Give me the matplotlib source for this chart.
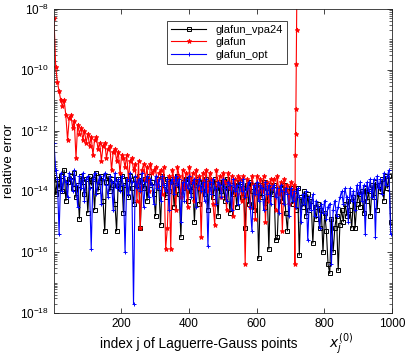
import numpy as np
import matplotlib
matplotlib.use('Agg')
import matplotlib.pyplot as plt
from matplotlib.ticker import FixedLocator, LogLocator, NullFormatter

plt.rcParams['font.family'] = ['Liberation Sans', 'DejaVu Sans']

# log10 of the relative error (every 5th index)
j_step = np.arange(1, 1000, 5)

vpa24 = [
    -13.4, -14.1, -13.6, -13.9, -13.5, -14.0, -13.3, -14.3, -13.7, -13.6,
    -13.5, -13.9, -13.4, -14.2, -13.8, -14.9, -13.5, -13.7, -14.1, -13.6,
    -14.7, -13.5, -13.8, -13.6, -14.6, -13.4, -14.0, -13.7, -13.5, -14.3,
    -15.3, -13.7, -13.5, -14.0, -13.6, -13.8, -14.4, -15.3, -13.6, -13.9,
    -13.5, -14.7, -13.8, -13.6, -14.2, -13.5, -13.9, -14.4, -13.6, -13.8,
    -13.5, -15.2, -13.7, -13.9, -13.6, -14.3, -13.5, -13.8, -13.7, -14.1,
    -14.8, -13.6, -13.9, -15.1, -13.5, -13.8, -14.2, -13.6, -14.0, -13.7,
    -13.6, -14.5, -13.8, -13.5, -14.1, -15.5, -13.7, -13.9, -13.6, -14.3,
    -13.6, -14.0, -13.7, -15.0, -13.8, -13.6, -14.4, -13.9, -13.7, -14.1,
    -13.6, -14.6, -13.8, -13.7, -14.2, -13.6, -13.9, -14.8, -13.7, -14.0,
    -13.7, -14.3, -13.6, -13.9, -14.7, -13.8, -14.1, -13.7, -14.5, -13.8,
    -13.7, -14.2, -13.9, -15.2, -13.8, -14.4, -13.7, -14.0, -14.6, -13.8,
    -13.9, -16.2, -13.8, -14.2, -13.7, -14.5, -13.9, -15.9, -13.8, -14.1,
    -13.8, -15.6, -15.5, -14.0, -13.9, -14.3, -13.8, -14.7, -15.3, -14.0,
    -13.9, -14.4, -14.0, -14.6, -13.9, -16.1, -14.2, -14.5, -14.0, -14.8,
    -14.1, -14.6, -14.3, -15.7, -14.5, -14.9, -14.4, -15.2, -14.6, -16.0,
    -14.7, -15.3, -16.4, -16.7, -14.9, -16.0, -15.2, -14.8, -16.6, -15.1,
    -14.6, -15.0, -14.4, -14.8, -14.3, -14.6, -15.2, -14.2, -15.2, -14.4,
    -14.1, -14.5, -14.0, -14.7, -13.9, -14.3, -14.0, -14.8, -13.8, -14.2,
    -13.7, -14.6, -13.8, -14.0, -13.6, -14.3, -13.5, -13.9, -13.5, -15.0,
]

glafun = [
    -8.3, -9.9, -10.4, -10.7, -11.0, -11.2, -11.0, -11.5, -12.3, -11.6,
    -11.5, -11.9, -11.7, -12.9, -11.8, -12.1, -11.9, -12.3, -12.0, -12.4,
    -12.1, -12.5, -12.2, -12.8, -12.3, -12.2, -12.6, -12.4, -13.0, -12.5,
    -12.4, -12.9, -12.6, -12.5, -13.3, -12.7, -12.6, -13.0, -12.7, -13.4,
    -12.8, -12.9, -13.2, -12.8, -13.6, -13.0, -12.9, -13.3, -13.1, -14.3,
    -13.0, -15.2, -13.3, -13.1, -13.6, -13.2, -14.0, -13.1, -13.4, -13.3,
    -13.2, -13.8, -13.4, -13.3, -14.1, -13.2, -15.9, -15.2, -13.5, -15.9,
    -13.3, -13.6, -14.6, -13.2, -13.5, -14.2, -13.3, -13.9, -13.4, -14.5,
    -13.2, -13.7, -13.4, -14.3, -13.3, -13.9, -13.5, -15.5, -13.4, -13.8,
    -13.3, -14.0, -13.4, -13.6, -14.4, -15.1, -13.3, -13.8, -13.5, -14.2,
    -13.4, -13.7, -14.6, -13.4, -13.9, -13.5, -14.8, -13.6, -14.1, -13.5,
    -13.6, -14.3, -13.5, -16.4, -13.6, -13.9, -14.5, -13.5, -13.8, -14.9,
    -13.5, -14.2, -13.6, -14.0, -13.5, -15.0, -13.7, -14.3, -13.6, -13.9,
    -13.6, -14.6, -13.5, -14.1, -13.7, -15.3, -13.6, -14.0, -13.8, -14.4,
    -13.7, -14.1, -13.8,
]
# glafun blows up just after j = 712
spike_j = [713, 714, 715, 716, 717, 718, 719]
spike = [-16.4, -12.8, -12.1, -11.3, -9.8, -8.7, -7.0]

glafun_opt = [
    -12.4, -13.3, -13.6, -15.4, -13.4, -14.0, -13.5, -13.7, -14.2, -13.4,
    -13.6, -14.0, -13.3, -13.8, -14.5, -13.5, -13.9, -13.4, -14.3, -13.6,
    -13.5, -13.9, -15.9, -13.6, -13.4, -14.1, -13.7, -13.5, -14.4, -13.6,
    -13.4, -13.8, -14.2, -13.5, -13.7, -14.6, -13.4, -13.9, -13.6, -14.0,
    -13.5, -13.8, -16.0, -13.6, -14.1, -13.4, -13.7, -17.7, -13.5, -13.9,
    -13.6, -14.0, -13.4, -14.5, -13.7, -13.5, -14.2, -13.6, -13.8, -14.4,
    -13.5, -13.9, -13.6, -14.3, -13.5, -13.8, -14.0, -13.6, -14.6, -13.7,
    -13.6, -14.1, -13.5, -13.8, -13.6, -15.0, -13.7, -14.3, -13.6, -13.9,
    -13.5, -14.2, -13.7, -13.6, -14.5, -13.8, -13.6, -14.0, -13.7, -14.3,
    -13.6, -15.8, -13.7, -14.1, -13.6, -13.9, -14.4, -13.7, -13.8, -14.2,
    -13.6, -13.9, -14.3, -13.7, -13.8, -14.6, -13.6, -14.0, -13.8, -14.4,
    -13.7, -14.0, -13.6, -14.2, -13.9, -13.7, -14.5, -15.3, -13.8, -14.1,
    -13.7, -14.3, -13.8, -13.9, -14.6, -13.7, -14.1, -13.8, -14.4, -13.9,
    -13.8, -14.2, -13.9, -14.7, -13.8, -14.0, -14.4, -13.9, -14.1, -14.8,
    -13.9, -14.3, -14.0, -14.5, -13.9, -14.2, -15.0, -14.1, -14.4, -14.0,
    -15.6, -14.2, -14.6, -14.1, -14.8, -14.3, -14.5, -15.2, -14.4, -14.7,
    -14.3, -14.9, -14.5, -14.4, -16.4, -14.6, -14.3, -14.8, -14.5, -14.2,
    -14.0, -14.4, -13.9, -14.2, -15.0, -13.9, -14.3, -14.0, -14.6, -13.8,
    -14.1, -13.7, -14.3, -13.8, -15.4, -13.7, -14.0, -13.6, -14.2, -13.6,
    -15.5, -13.5, -13.9, -13.6, -14.1, -13.4, -13.8, -13.5, -13.3, -15.4,
]

red_j = np.concatenate([j_step[:len(glafun)], spike_j])
red_v = np.concatenate([glafun, spike])

fig = plt.figure(figsize=(4.07, 3.61), dpi=100)
ax = fig.add_axes([54/407, 48/361, 338/407, 304/361])

lw = 0.8
ax.plot(j_step, 10.0**np.array(vpa24), color='k', lw=lw, marker='s', ms=2.4,
        mfc='none', mew=0.7, label='glafun_vpa24')
ax.plot(red_j, 10.0**red_v, color='r', lw=lw, marker='*', ms=3.5, mew=0.6,
        label='glafun')
ax.plot(j_step, 10.0**np.array(glafun_opt), color='b', lw=lw, marker='+', ms=3.5,
        mew=0.7, label='glafun_opt')

ax.set_yscale('log')
ax.set_xlim(1, 1000)
ax.set_ylim(1e-18, 1e-8)
ax.set_xticks([200, 400, 600, 800, 1000])
ax.yaxis.set_major_locator(FixedLocator([1e-18, 1e-16, 1e-14, 1e-12, 1e-10, 1e-8]))
ax.yaxis.set_minor_locator(LogLocator(base=10, subs=np.arange(1, 10), numticks=30))
ax.yaxis.set_minor_formatter(NullFormatter())
ax.tick_params(which='both', direction='in', top=True, right=True,
               labelsize=8.5, color='#262626')
ax.tick_params(which='major', length=3.5, width=0.6)
ax.tick_params(which='minor', length=2, width=0.5)
for s in ax.spines.values():
    s.set_linewidth(0.6)
    s.set_color('#262626')

ax.set_ylabel('relative error', fontsize=9.5, labelpad=4)
# x label in two pieces, as in the original figure
fig.text(199/407, 17/361, 'index j of Laguerre-Gauss points', fontsize=9.8,
         ha='center', va='center')
fig.text(329/407, 17/361, r'$x_j^{(0)}$', fontsize=10, ha='left', va='center')

leg = ax.legend(loc='upper left', bbox_to_anchor=(0.318, 0.98), fontsize=8,
                handlelength=3.2, numpoints=1, fancybox=False, framealpha=1,
                edgecolor='#262626', borderpad=0.35, labelspacing=0.25)
leg.get_frame().set_linewidth(0.6)

fig.savefig('out.png', dpi=100)
